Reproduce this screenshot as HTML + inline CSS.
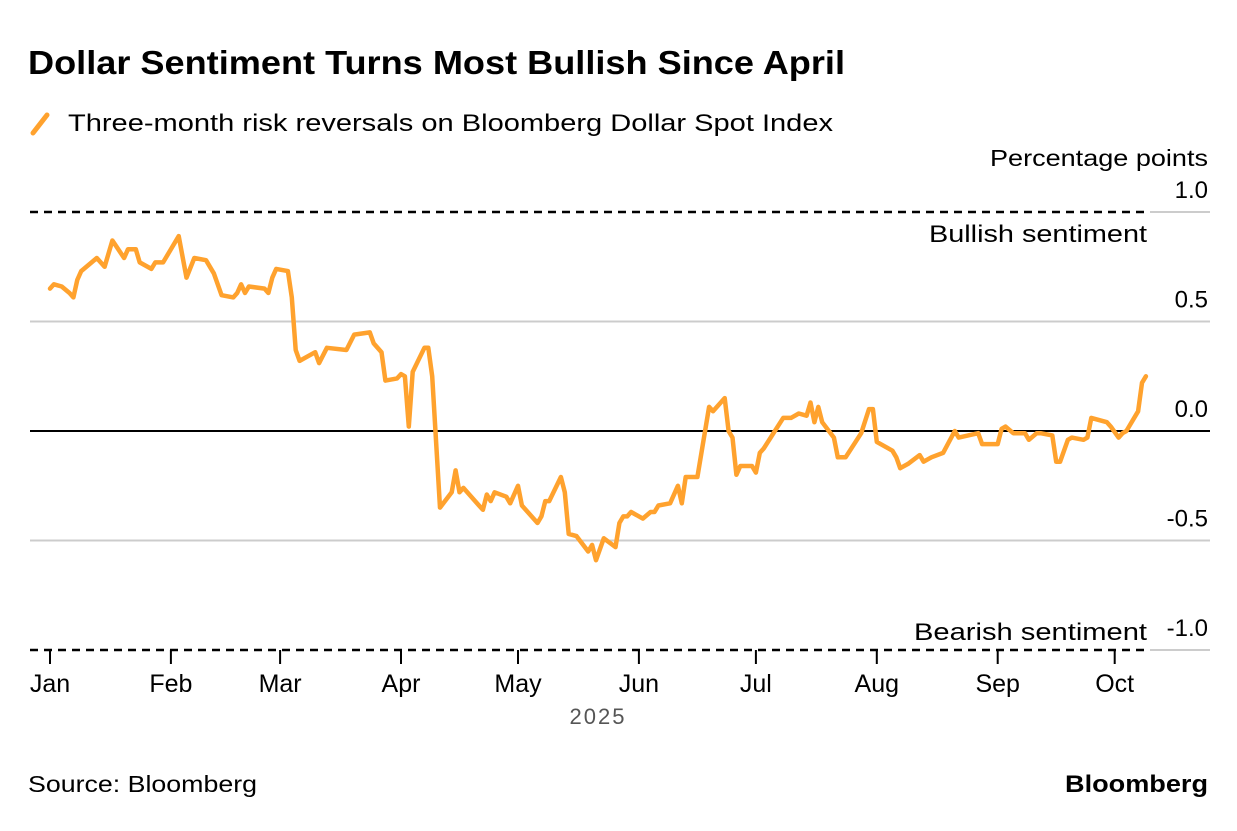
<!DOCTYPE html>
<html><head><meta charset="utf-8"><style>
body{margin:0;background:#fff;width:1237px;height:826px;overflow:hidden;font-family:"Liberation Sans",sans-serif}
</style></head><body>
<svg id="chart" width="1237" height="826" xmlns="http://www.w3.org/2000/svg" font-family="Liberation Sans, sans-serif">
<text x="28" y="74" font-size="33" font-weight="bold" fill="#000" textLength="817" lengthAdjust="spacingAndGlyphs">Dollar Sentiment Turns Most Bullish Since April</text>
<g>
<line x1="33" y1="133" x2="47" y2="115" stroke="#ffa22e" stroke-width="5" stroke-linecap="round"/>
<text x="68" y="131" font-size="24" fill="#000" textLength="765" lengthAdjust="spacingAndGlyphs">Three-month risk reversals on Bloomberg Dollar Spot Index</text>
</g>
<text x="1208" y="166" font-size="23" text-anchor="end" textLength="218" lengthAdjust="spacingAndGlyphs">Percentage points</text>
<g id="grid"></g>
<text x="1147" y="242" font-size="24" text-anchor="end" textLength="218" lengthAdjust="spacingAndGlyphs">Bullish sentiment</text>
<text x="1147" y="640" font-size="24" text-anchor="end" textLength="233" lengthAdjust="spacingAndGlyphs">Bearish sentiment</text>
<g id="xaxis"></g>
<text x="598" y="724" font-size="22" fill="#555" text-anchor="middle" letter-spacing="2">2025</text>
<g id="series"></g>
<text x="28" y="792" font-size="23" textLength="229" lengthAdjust="spacingAndGlyphs">Source: Bloomberg</text>
<text x="1208" y="792" font-size="24" font-weight="bold" text-anchor="end" textLength="143" lengthAdjust="spacingAndGlyphs">Bloomberg</text>
</svg>
<script>
const yTicks=[1.0,0.5,0.0,-0.5,-1.0];
const yTickLabels=["1.0","0.5","0.0","-0.5","-1.0"];
const months=["Jan","Feb","Mar","Apr","May","Jun","Jul","Aug","Sep","Oct"];
const monthStartDays=[0,31,59,90,120,151,181,212,243,273];
const days=[0,1,3,5,6,7,8,12,14,16,19,20,22,23,26,27,29,33,35,37,40,42,44,47,48,49,50,51,55,56,57,58,61,62,63,64,68,69,71,76,78,82,83,85,86,89,90,91,92,93,96,97,98,100,103,104,105,106,110,111,112,113,114,117,118,120,121,125,126,127,128,131,132,133,135,138,139,140,142,145,146,147,148,149,152,154,155,156,159,161,162,163,166,169,170,173,174,175,176,177,180,181,182,183,188,190,192,194,195,196,197,198,201,202,204,208,210,211,212,216,217,218,220,223,224,226,229,232,233,238,239,243,244,245,247,250,251,253,254,257,258,259,261,262,265,266,267,271,272,274,275,276,279,280,281];
const values=[0.65,0.67,0.66,0.63,0.61,0.69,0.73,0.79,0.75,0.87,0.79,0.83,0.83,0.77,0.74,0.77,0.77,0.89,0.70,0.79,0.78,0.72,0.62,0.61,0.63,0.67,0.63,0.66,0.65,0.63,0.70,0.74,0.73,0.61,0.37,0.32,0.36,0.31,0.38,0.37,0.44,0.45,0.40,0.36,0.23,0.24,0.26,0.25,0.02,0.27,0.38,0.38,0.25,-0.35,-0.28,-0.18,-0.28,-0.26,-0.34,-0.36,-0.29,-0.32,-0.28,-0.30,-0.33,-0.25,-0.34,-0.42,-0.39,-0.32,-0.32,-0.21,-0.28,-0.47,-0.48,-0.55,-0.52,-0.59,-0.49,-0.53,-0.42,-0.39,-0.39,-0.37,-0.40,-0.37,-0.37,-0.34,-0.33,-0.25,-0.33,-0.21,-0.21,0.11,0.09,0.15,0.00,-0.03,-0.20,-0.16,-0.16,-0.19,-0.10,-0.08,0.06,0.06,0.08,0.07,0.13,0.04,0.11,0.04,-0.03,-0.12,-0.12,-0.01,0.10,0.10,-0.05,-0.09,-0.12,-0.17,-0.15,-0.11,-0.14,-0.12,-0.10,0.00,-0.03,-0.01,-0.06,-0.06,0.01,0.02,-0.01,-0.01,-0.04,-0.01,-0.01,-0.02,-0.14,-0.14,-0.04,-0.03,-0.04,-0.03,0.06,0.04,0.02,-0.03,-0.01,0.00,0.09,0.22,0.25];
const NS="http://www.w3.org/2000/svg";
const xS=d=>50+d*3.9;
const yS=v=>431-v*219;
const grid=document.getElementById('grid');
yTicks.forEach((t,i)=>{
  const y=yS(t);
  const dashed=Math.abs(t)===1;
  if(dashed){const l2=document.createElementNS(NS,'line');
    
    
    l2.setAttribute('x1',1150);l2.setAttribute('x2',1210);l2.setAttribute('y1',y);l2.setAttribute('y2',y);
    l2.setAttribute('stroke','#ccc');l2.setAttribute('stroke-width',2);grid.appendChild(l2);}
  const ln=document.createElementNS(NS,'line');
  
  
  ln.setAttribute('x1',30);ln.setAttribute('x2',dashed?1150:1210);
  ln.setAttribute('y1',y);ln.setAttribute('y2',y);
  ln.setAttribute('stroke',dashed||t===0?'#000':'#ccc');
  ln.setAttribute('stroke-width',dashed?2.5:2);
  if(dashed)ln.setAttribute('stroke-dasharray','8,6');
  grid.appendChild(ln);
  const tx=document.createElementNS(NS,'text');
  
  
  tx.setAttribute('x',1208);tx.setAttribute('y',y-14);tx.setAttribute('font-size',24);tx.setAttribute('text-anchor','end');
  tx.textContent=yTickLabels[i];grid.appendChild(tx);
});
const xa=document.getElementById('xaxis');
months.forEach((m,i)=>{
  const x=xS(monthStartDays[i]);
  const tk=document.createElementNS(NS,'line');
  
  
  tk.setAttribute('x1',x);tk.setAttribute('x2',x);tk.setAttribute('y1',650);tk.setAttribute('y2',664);
  tk.setAttribute('stroke','#000');tk.setAttribute('stroke-width',2);xa.appendChild(tk);
  const tx=document.createElementNS(NS,'text');
  
  
  tx.setAttribute('x',x);tx.setAttribute('y',692);tx.setAttribute('font-size',25);tx.setAttribute('text-anchor','middle');
  tx.textContent=m;xa.appendChild(tx);
});
const p=document.createElementNS(NS,'path');


p.setAttribute('d',days.map((d,i)=>(i?'L':'M')+xS(d).toFixed(1)+','+yS(values[i]).toFixed(1)).join(''));
p.setAttribute('fill','none');p.setAttribute('stroke','#ffa22e');p.setAttribute('stroke-width',4.5);p.setAttribute('stroke-linejoin','round');p.setAttribute('stroke-linecap','round');
document.getElementById('series').appendChild(p);
</script>
</body></html>
